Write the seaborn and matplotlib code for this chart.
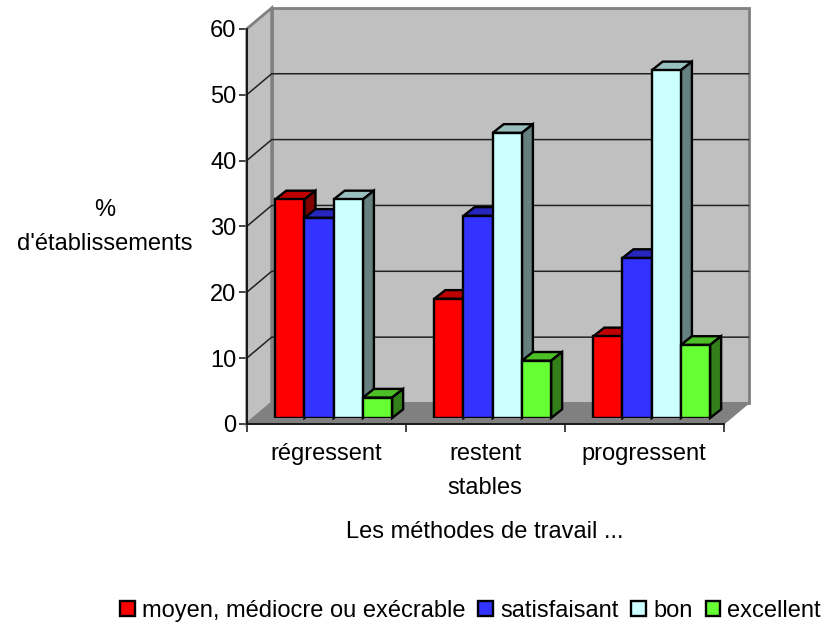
import matplotlib
matplotlib.use('Agg')
import matplotlib.pyplot as plt
from matplotlib.colors import to_rgb
from matplotlib.patches import Polygon
import seaborn as sns
import pandas as pd

groupes = ['régressent', 'restent\nstables', 'progressent']
notes = ['moyen, médiocre ou exécrable', 'satisfaisant', 'bon', 'excellent']
moyen = [33.2, 18.1, 12.4]
satisfaisant = [30.4, 30.7, 24.3]
bon = [33.2, 43.3, 52.8]
excellent = [3.1, 8.7, 11.1]
y_ticks = [0, 10, 20, 30, 40, 50, 60]
couleurs = ['#ff0000', '#3333ff', '#ccffff', '#66ff33']

W, H = 825, 625


def pos(x0, x1, y_top, y_bottom):
    # pixels de l'image -> coordonnees figure
    return [x0 / W, 1 - y_bottom / H, (x1 - x0) / W, (y_bottom - y_top) / H]


df = pd.DataFrame({'groupe': groupes, notes[0]: moyen, notes[1]: satisfaisant,
                   notes[2]: bon, notes[3]: excellent})
df = df.melt(id_vars='groupe', var_name='note', value_name='valeur')

sns.set_style('white')
plt.rcParams['font.family'] = ['Liberation Sans', 'DejaVu Sans']

fig = plt.figure(figsize=(W / 100, H / 100), dpi=100)

# plan avant : axes, murs, sol
ax = fig.add_axes(pos(246.7, 723.7, 28.9, 424))
ax.set_xlim(-0.5, 2.5)
ax.set_ylim(0, 60)
px_x = 3 / 477
px_y = 60 / 395.1
dx, dy = 25 * px_x, 21 * px_y

ax.add_patch(Polygon([(-0.5 + dx, dy), (2.5 + dx, dy), (2.5 + dx, 60 + dy), (-0.5 + dx, 60 + dy)],
                     closed=True, fc='#c0c0c0', ec='#808080', lw=2, clip_on=False, zorder=1))
ax.add_patch(Polygon([(-0.5, 0), (-0.5 + dx, dy), (-0.5 + dx, 60 + dy), (-0.5, 60)],
                     closed=True, fc='#c0c0c0', ec='#808080', lw=2, clip_on=False, zorder=1))
ax.add_patch(Polygon([(-0.5, 0), (2.5, 0), (2.5 + dx, dy), (-0.5 + dx, dy)],
                     closed=True, fc='#808080', ec='#808080', lw=1, clip_on=False, zorder=1.5))
for v in y_ticks[1:-1]:
    ax.plot([-0.5, -0.5 + dx, 2.5 + dx], [v, v + dy, v + dy], color='#222222', lw=1.1,
            clip_on=False, zorder=1.2)

for s in ['top', 'right']:
    ax.spines[s].set_visible(False)
for s in ['left', 'bottom']:
    ax.spines[s].set_color('#111111')
    ax.spines[s].set_linewidth(1.3)

ax.set_yticks(y_ticks)
ax.set_xticks([-0.5, 0.5, 1.5, 2.5])
ax.set_xticklabels([])
ax.set_xticks([0, 1, 2], minor=True)
ax.set_xticklabels(groupes, minor=True, fontsize=17, linespacing=1.7)
ax.tick_params(axis='y', which='major', left=True, length=5.8, width=1.1, color='#111111',
               labelsize=17, pad=1.5, labelcolor='black')
ax.tick_params(axis='x', which='major', bottom=True, length=5.8, width=1.1, color='#111111')
ax.tick_params(axis='x', which='minor', bottom=False, length=0, pad=14, labelcolor='black')

ax.set_ylabel("%\nd'établissements", rotation=0, fontsize=17, ha='center', va='center',
              linespacing=1.7, color='black')
ax.yaxis.set_label_coords((105 - 246.7) / 477, (424 - 227) / 395.1)
ax.set_xlabel('Les méthodes de travail ...', fontsize=17, color='black')
ax.xaxis.set_label_coords((485 - 246.7) / 477, (424 - 521) / 395.1)

# plan des barres, decale par rapport au plan avant
ax_bars = fig.add_axes(pos(254.2, 731.2, 22.9, 418), facecolor='none')
sns.barplot(data=df, x='groupe', y='valeur', hue='note', hue_order=notes, order=groupes,
            palette=couleurs, width=0.735, saturation=1, edgecolor='black', linewidth=1.7,
            ax=ax_bars)
ax_bars.set_xlim(-0.5, 2.5)
ax_bars.set_ylim(0, 60)
ax_bars.axis('off')

# faces superieure et laterale calculees depuis les barres
# (seaborn ajoute aussi des rectangles vides pour la legende, on les ignore)
bx, by = 11 * px_x, 8.7 * px_y
bars = sorted([p for p in ax_bars.patches if p.get_height() > 0], key=lambda p: p.get_x())
for i, p in enumerate(bars):
    x0, w, h = p.get_x(), p.get_width(), p.get_height()
    base = to_rgb(p.get_facecolor())
    top_c = tuple(c * 0.75 for c in base)
    side_c = tuple(c * 0.5 for c in base)
    p.set_zorder(10 + i + 0.2)
    p.set_joinstyle('miter')
    ax_bars.add_patch(Polygon([(x0, h), (x0 + w, h), (x0 + w + bx, h + by), (x0 + bx, h + by)],
                              closed=True, fc=top_c, ec='black', lw=1.7, clip_on=False, zorder=10 + i))
    ax_bars.add_patch(Polygon([(x0 + w, 0), (x0 + w + bx, by), (x0 + w + bx, h + by), (x0 + w, h)],
                              closed=True, fc=side_c, ec='black', lw=1.7, clip_on=False, zorder=10 + i))

sns.move_legend(ax_bars, 'center', bbox_to_anchor=(470.5 / W, 1 - 611 / H),
                bbox_transform=fig.transFigure, ncol=4, title=None, frameon=False, fontsize=17,
                handlelength=0.62, handleheight=0.62, handletextpad=0.3, columnspacing=0.55,
                borderpad=0, borderaxespad=0, labelcolor='black')

plt.savefig('out.png', dpi=100)
